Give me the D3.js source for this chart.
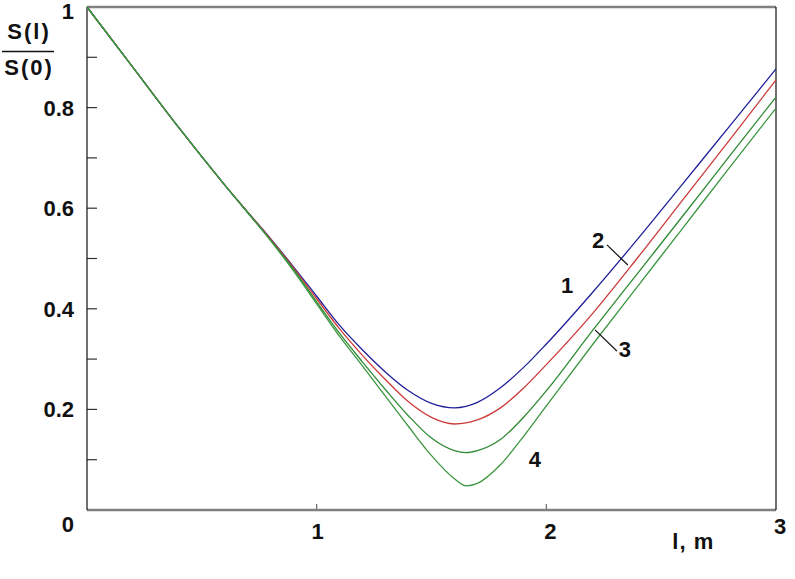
<!DOCTYPE html>
<html>
<head>
<meta charset="utf-8">
<script src="https://cdn.jsdelivr.net/npm/d3@7"></script>
<style>
  body { margin: 0; background: #fff; }
  text { font-family: "Liberation Sans", Arial, sans-serif; font-weight: bold; fill: #111; }
</style>
</head>
<body>
<svg id="chart" width="795" height="579"></svg>
<script>
// distance along the line, m
const lValues = [0, 0.2, 0.4, 0.6, 0.7, 0.8, 0.9, 1.0, 1.1, 1.2, 1.3, 1.4, 1.5, 1.6, 1.65, 1.7, 1.8, 1.9, 2.0, 2.2, 2.4, 2.6, 2.8, 3.0];

// S(l)/S(0), one array per curve
const curve1 = [1, 0.88, 0.76, 0.646, 0.592, 0.539, 0.483, 0.425, 0.367, 0.318, 0.274, 0.237, 0.212, 0.203, 0.206, 0.214, 0.243, 0.283, 0.330, 0.432, 0.540, 0.652, 0.764, 0.877];
const curve2 = [1, 0.88, 0.76, 0.646, 0.592, 0.538, 0.481, 0.420, 0.360, 0.307, 0.259, 0.215, 0.184, 0.171, 0.173, 0.179, 0.203, 0.242, 0.289, 0.390, 0.503, 0.620, 0.737, 0.855];
const curve3 = [1, 0.88, 0.76, 0.646, 0.591, 0.536, 0.478, 0.414, 0.351, 0.294, 0.239, 0.187, 0.143, 0.118, 0.114, 0.118, 0.140, 0.184, 0.237, 0.356, 0.472, 0.588, 0.705, 0.821];
const curve4 = [1, 0.88, 0.76, 0.646, 0.591, 0.535, 0.475, 0.410, 0.345, 0.286, 0.226, 0.166, 0.108, 0.062, 0.048, 0.053, 0.090, 0.146, 0.207, 0.328, 0.446, 0.564, 0.682, 0.799];

const curveColors = ["#20209a", "#cc3a3a", "#2f8a34", "#3c9640"];

const xTicks = [1, 2, 3];
const yLabelTicks = [0.2, 0.4, 0.6, 0.8, 1];
const yMinorTicks = [0.1, 0.2, 0.3, 0.4, 0.5, 0.6, 0.7, 0.8, 0.9];

// curve numbers and their leader lines, in data units
const curveLabels = [
  { text: "1", l: 2.09, v: 0.431 },
  { text: "2", l: 2.225, v: 0.521 },
  { text: "3", l: 2.342, v: 0.304 },
  { text: "4", l: 1.95, v: 0.085 }
];
const leaders = [
  [[2.264, 0.527], [2.355, 0.487]],
  [[2.212, 0.358], [2.307, 0.316]]
];

const margin = { top: 7, right: 19, bottom: 69, left: 87 };
const width = 795 - margin.left - margin.right;
const height = 579 - margin.top - margin.bottom;
const fontSize = 22;

const svg = d3.select("#chart");
const g = svg.append("g").attr("transform", `translate(${margin.left},${margin.top})`);

const x = d3.scaleLinear().domain([0, 3]).range([0, width]);
const y = d3.scaleLinear().domain([0, 1]).range([height, 0]);

// inward ticks
g.selectAll(".ytick")
  .data(yMinorTicks)
  .enter()
  .append("line")
  .attr("x1", 0)
  .attr("x2", 10)
  .attr("y1", (d) => y(d))
  .attr("y2", (d) => y(d))
  .attr("stroke", "#333")
  .attr("stroke-width", 1.2);

g.selectAll(".xtick")
  .data([1, 2])
  .enter()
  .append("line")
  .attr("x1", (d) => x(d))
  .attr("x2", (d) => x(d))
  .attr("y1", height)
  .attr("y2", height - 6)
  .attr("stroke", "#666")
  .attr("stroke-width", 1.2);

// frame
g.append("line").attr("x1", 0).attr("x2", width).attr("y1", 0).attr("y2", 0)
  .attr("stroke", "#808080").attr("stroke-width", 2.5);
g.append("line").attr("x1", 0).attr("x2", width).attr("y1", height).attr("y2", height)
  .attr("stroke", "#808080").attr("stroke-width", 2.5);
g.append("line").attr("x1", 0).attr("x2", 0).attr("y1", 0).attr("y2", height)
  .attr("stroke", "#111").attr("stroke-width", 1.2);
g.append("line").attr("x1", width).attr("x2", width).attr("y1", 0).attr("y2", height)
  .attr("stroke", "#111").attr("stroke-width", 1.2);

// curves
const line = d3
  .line()
  .x((d) => x(d[0]))
  .y((d) => y(d[1]))
  .curve(d3.curveMonotoneX);

[curve1, curve2, curve3, curve4].forEach((vals, i) => {
  g.append("path")
    .datum(lValues.map((l, j) => [l, vals[j]]))
    .attr("d", line)
    .attr("fill", "none")
    .attr("stroke", curveColors[i])
    .attr("stroke-width", 1.3);
});

// tick labels
g.selectAll(".ylabel")
  .data(yLabelTicks)
  .enter()
  .append("text")
  .attr("x", -13)
  .attr("y", (d) => y(d) + (d === 1 ? 12 : 8))
  .attr("text-anchor", "end")
  .attr("font-size", fontSize)
  .text((d) => (d === 1 ? "1" : d.toFixed(1)));

g.append("text")
  .attr("x", -13)
  .attr("y", y(0) + 22)
  .attr("text-anchor", "end")
  .attr("font-size", fontSize)
  .text("0");

g.selectAll(".xlabel")
  .data(xTicks)
  .enter()
  .append("text")
  .attr("x", (d) => x(d) + (d === 1 ? 1 : 4))
  .attr("y", (d) => height + (d === 3 ? 24 : 29))
  .attr("text-anchor", "middle")
  .attr("font-size", fontSize)
  .text((d) => d);

g.append("text")
  .attr("x", x(2.64))
  .attr("y", height + 39)
  .attr("text-anchor", "middle")
  .attr("font-size", fontSize)
  .attr("letter-spacing", 1)
  .text("l, m");

// y axis title as a fraction
svg.append("text").attr("x", 29).attr("y", 39).attr("text-anchor", "middle")
  .attr("font-size", fontSize).attr("letter-spacing", 2).text("S(l)");
svg.append("line").attr("x1", 2).attr("x2", 54).attr("y1", 51.5).attr("y2", 51.5)
  .attr("stroke", "#111").attr("stroke-width", 1.5);
svg.append("text").attr("x", 29).attr("y", 75).attr("text-anchor", "middle")
  .attr("font-size", fontSize).attr("letter-spacing", 2).text("S(0)");

// curve numbers
g.selectAll(".clabel")
  .data(curveLabels)
  .enter()
  .append("text")
  .attr("x", (d) => x(d.l))
  .attr("y", (d) => y(d.v))
  .attr("text-anchor", "middle")
  .attr("font-size", fontSize)
  .text((d) => d.text);

g.selectAll(".leader")
  .data(leaders)
  .enter()
  .append("line")
  .attr("x1", (d) => x(d[0][0]))
  .attr("y1", (d) => y(d[0][1]))
  .attr("x2", (d) => x(d[1][0]))
  .attr("y2", (d) => y(d[1][1]))
  .attr("stroke", "#111")
  .attr("stroke-width", 1.2);
</script>
</body>
</html>
